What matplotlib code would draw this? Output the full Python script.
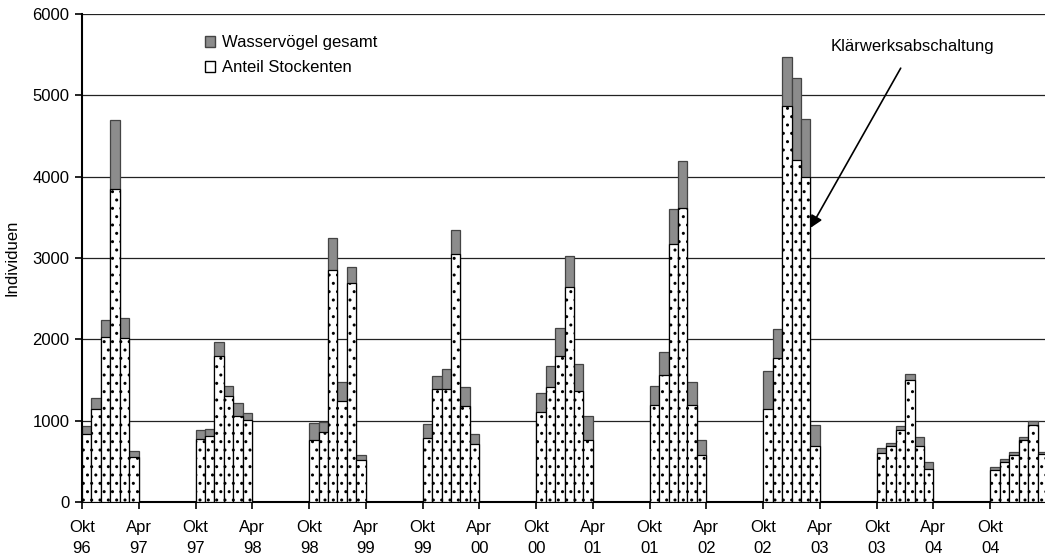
import matplotlib.pyplot as plt
from matplotlib.patches import Patch

plt.rcParams['font.family'] = ['Liberation Sans', 'DejaVu Sans']
plt.rcParams['hatch.linewidth'] = 1.0

# Winter seasons, Okt..Mar counts per month
seasons = ["96/97", "97/98", "98/99", "99/00", "00/01", "01/02", "02/03", "03/04", "04/05"]
gesamt = [
    [940, 1280, 2235, 4696, 2256, 627],
    [886, 898, 1969, 1432, 1214, 1100],
    [977, 984, 3248, 1476, 2891, 578],
    [956, 1546, 1636, 3343, 1415, 835],
    [1340, 1668, 2135, 3025, 1697, 1058],
    [1420, 1842, 3601, 4191, 1481, 758],
    [1605, 2131, 5468, 5208, 4713, 943],
    [663, 728, 937, 1577, 794, 494],
    [435, 534, 616, 801, 999, 620],
]
stockenten = [
    [841, 1145, 2023, 3851, 2010, 554],
    [775, 812, 1793, 1304, 1063, 1014],
    [763, 866, 2847, 1243, 2694, 513],
    [787, 1383, 1383, 3044, 1177, 716],
    [1106, 1410, 1799, 2640, 1365, 767],
    [1191, 1563, 3170, 3620, 1191, 578],
    [1146, 1770, 4869, 4209, 3991, 686],
    [606, 687, 879, 1499, 690, 404],
    [394, 493, 575, 768, 946, 586],
]
tick_labels = ["Okt\n96", "Apr\n97", "Okt\n97", "Apr\n98", "Okt\n98", "Apr\n99",
               "Okt\n99", "Apr\n00", "Okt\n00", "Apr\n01", "Okt\n01", "Apr\n02",
               "Okt\n02", "Apr\n03", "Okt\n03", "Apr\n04", "Okt\n04"]

fig = plt.figure(figsize=(10.45, 5.59), dpi=100)
ax = fig.add_axes([0.0785, 0.102, 0.9234, 0.873])

# month index from Okt 96, 12 months per season
xs, tot, sto = [], [], []
for s in range(len(seasons)):
    for j in range(6):
        xs.append(s * 12 + j + 0.5)
        tot.append(gesamt[s][j])
        sto.append(stockenten[s][j])

ax.bar(xs, tot, width=1.0, color="#8c8c8c", edgecolor="#444444", linewidth=0.9, zorder=2)
ax.bar(xs, sto, width=1.0, color="white", edgecolor="black", linewidth=0.9,
       hatch="..", zorder=3)

ax.set_xlim(0, 102)
ax.set_ylim(0, 6000)
ax.set_yticks(range(0, 6001, 1000))
ax.set_xticks(range(0, 97, 6))
ax.set_xticklabels(tick_labels, fontsize=12, linespacing=1.5)
ax.tick_params(axis="y", labelsize=12, direction="out", length=5, width=1.2, pad=4)
ax.tick_params(axis="x", direction="out", length=5, width=1.2, pad=8)

ax.yaxis.grid(True, color="#222222", linewidth=0.9, zorder=0)
ax.set_axisbelow(True)
for side in ["top", "right"]:
    ax.spines[side].set_visible(False)
ax.spines["left"].set_linewidth(1.5)
ax.spines["bottom"].set_linewidth(1.5)

ax.set_ylabel("Individuen", fontsize=12, labelpad=9)

handles = [Patch(facecolor="#8c8c8c", edgecolor="#444444", label="Wasservögel gesamt"),
           Patch(facecolor="white", edgecolor="black", label="Anteil Stockenten")]
fig.legend(handles=handles, loc="upper left", bbox_to_anchor=(0.196, 0.937),
           frameon=False, fontsize=12, handlelength=0.6, handleheight=0.6,
           handletextpad=0.45, labelspacing=0.6, borderpad=0, borderaxespad=0)

ax.annotate("Klärwerksabschaltung", xy=(77, 3370), xytext=(87.8, 5594),
            ha="center", va="center", fontsize=12,
            arrowprops=dict(arrowstyle="-|>", color="black", lw=1.2,
                            mutation_scale=18, shrinkA=9, shrinkB=0))

fig.savefig("out.png", dpi=100)
